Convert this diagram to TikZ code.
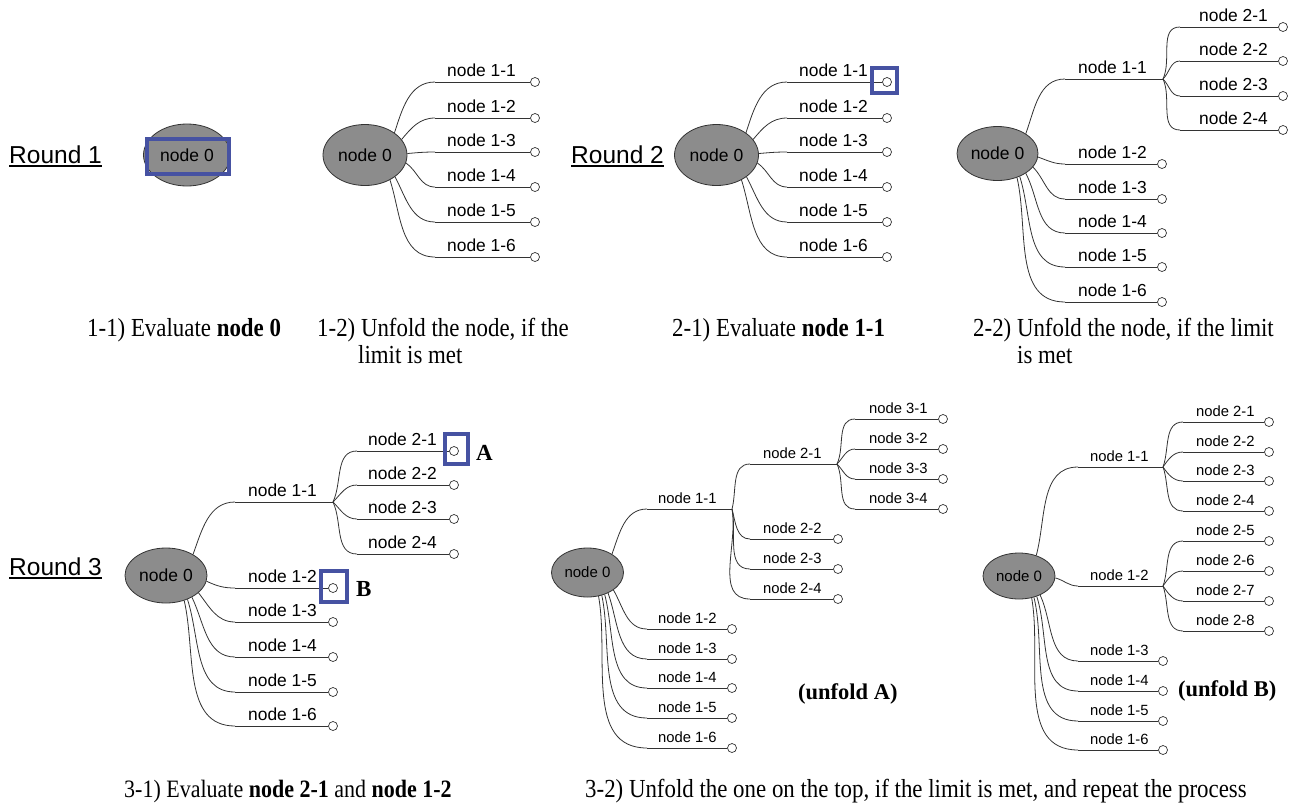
\documentclass[tikz,border=0pt]{standalone}
\usepackage{fontspec}
\setmainfont{Liberation Serif}
\newfontfamily\capfont{Liberation Serif}[FakeStretch=0.88]
\newfontfamily\lblfont{Liberation Sans}
\usetikzlibrary{shapes.geometric}

\definecolor{rootfill}{HTML}{8C8C8C}
\definecolor{edgecol}{HTML}{333333}
\definecolor{hlblue}{HTML}{4652A2}

% a branch ending in an open dot: name, x line start, x dot, y, x label, label, label style
\newcommand\tleaf[7]{%
  \coordinate (#1s) at (#2,-#4);
  \node[leafdot] (#1) at (#3,-#4) {};
  \draw[conn] (#1s) -- (#1.west);
  \node[#7] (#1l) at (#5,-#4+6) {#6};
}
% a branch ending in a junction for further children
\newcommand\tstem[7]{%
  \coordinate (#1s) at (#2,-#4);
  \coordinate (#1) at (#3,-#4);
  \draw[conn] (#1s) -- (#1);
  \node[#7] (#1l) at (#5,-#4+6) {#6};
}

\tikzset{
  broot/.style={ellipse, draw=edgecol, fill=rootfill, line width=0.8pt, inner sep=0pt,
    font=\lblfont\fontsize{17.5}{20}\selectfont},
  sroot/.style={broot, font=\lblfont\fontsize{15}{18}\selectfont},
  leafdot/.style={circle, draw=edgecol, fill=white, line width=0.7pt, inner sep=0pt, minimum size=9pt},
  conn/.style={draw=edgecol, line width=0.8pt},
  lab/.style={anchor=base west, inner sep=0pt, font=\lblfont\fontsize{17.4}{20}\selectfont},
  slab/.style={anchor=base west, inner sep=0pt, font=\lblfont\fontsize{14.8}{18}\selectfont},
  hlbox/.style={draw=hlblue, line width=3.5pt, inner sep=0pt},
  roundlbl/.style={anchor=base west, inner sep=0pt, font=\lblfont\fontsize{24.5}{30}\selectfont},
  captxt/.style={anchor=base west, inner sep=0pt, font=\capfont\fontsize{26}{30}\selectfont},
  abmark/.style={anchor=base west, inner sep=0pt, font=\bfseries\fontsize{23}{27}\selectfont},
  unf/.style={anchor=base west, inner sep=0pt, font=\bfseries\fontsize{22.5}{27}\selectfont},
}

\begin{document}
\begin{tikzpicture}[x=1pt,y=1pt]
\useasboundingbox (0,0) rectangle (1298,-804);

% ---------------- Round 1: evaluate ----------------
\node[roundlbl] (rd1) at (9,-163) {Round 1};
\draw[line width=1.3pt] ([yshift=-3pt]rd1.base west) -- ([yshift=-3pt]rd1.base east);
\node[broot, minimum width=87pt, minimum height=62pt] (r1) at (187,-155) {node 0};
\node[hlbox, minimum width=82pt, minimum height=35pt] (h1) at (188,-156.5) {};

% ---------------- Round 1: unfold ----------------
\node[broot, minimum width=84pt, minimum height=61pt] (r2) at (365,-155) {node 0};
\tleaf{b11}{435}{535}{82}{447}{node 1-1}{lab}
\tleaf{b12}{435}{535}{118}{447}{node 1-2}{lab}
\tleaf{b13}{435}{535}{152}{447}{node 1-3}{lab}
\tleaf{b14}{435}{535}{187}{447}{node 1-4}{lab}
\tleaf{b15}{435}{535}{222}{447}{node 1-5}{lab}
\tleaf{b16}{435}{535}{257}{447}{node 1-6}{lab}
\draw[conn] (r2.37) to[out=72,in=180] (b11s);
\draw[conn] (r2.23) to[out=50,in=180] (b12s);
\draw[conn] (r2.2) to[out=5,in=180] (b13s);
\draw[conn] (r2.-11) to[out=-35,in=180] (b14s);
\draw[conn] (r2.-36) to[out=-62,in=180] (b15s);
\draw[conn] (r2.-45) to[out=-72,in=180] (b16s);

% ---------------- Round 2: evaluate ----------------
\node[roundlbl] (rd2) at (571,-163) {Round 2};
\draw[line width=1.3pt] ([yshift=-3pt]rd2.base west) -- ([yshift=-3pt]rd2.base east);
\node[broot, minimum width=84pt, minimum height=61pt] (r3) at (716.5,-155) {node 0};
\tleaf{c11}{787}{887}{82}{799}{node 1-1}{lab}
\tleaf{c12}{787}{887}{118}{799}{node 1-2}{lab}
\tleaf{c13}{787}{887}{152}{799}{node 1-3}{lab}
\tleaf{c14}{787}{887}{187}{799}{node 1-4}{lab}
\tleaf{c15}{787}{887}{222}{799}{node 1-5}{lab}
\tleaf{c16}{787}{887}{257}{799}{node 1-6}{lab}
\draw[conn] (r3.37) to[out=72,in=180] (c11s);
\draw[conn] (r3.23) to[out=50,in=180] (c12s);
\draw[conn] (r3.2) to[out=5,in=180] (c13s);
\draw[conn] (r3.-11) to[out=-35,in=180] (c14s);
\draw[conn] (r3.-36) to[out=-62,in=180] (c15s);
\draw[conn] (r3.-45) to[out=-72,in=180] (c16s);
\node[hlbox, minimum width=25pt, minimum height=25pt] (h2) at (884.5,-80.5) {};

% ---------------- Round 2: unfold ----------------
\node[broot, minimum width=81pt, minimum height=54pt] (r4) at (997.5,-153.5) {node 0};
\tstem{d11}{1065}{1163}{79}{1078}{node 1-1}{lab}
\tleaf{d21}{1180}{1283}{27}{1199}{node 2-1}{lab}
\tleaf{d22}{1180}{1283}{61}{1199}{node 2-2}{lab}
\tleaf{d23}{1180}{1283}{96}{1199}{node 2-3}{lab}
\tleaf{d24}{1180}{1283}{130}{1199}{node 2-4}{lab}
\tleaf{d12}{1065}{1162}{164}{1078}{node 1-2}{lab}
\tleaf{d13}{1065}{1162}{199}{1078}{node 1-3}{lab}
\tleaf{d14}{1065}{1162}{233}{1078}{node 1-4}{lab}
\tleaf{d15}{1065}{1162}{267}{1078}{node 1-5}{lab}
\tleaf{d16}{1065}{1162}{302}{1078}{node 1-6}{lab}
\draw[conn] (r4.35) to[out=70,in=180] (d11s);
\draw[conn] (d11) to[out=65,in=180] (d21s);
\draw[conn] (d11) to[out=45,in=180] (d22s);
\draw[conn] (d11) to[out=-45,in=180] (d23s);
\draw[conn] (d11) to[out=-65,in=180] (d24s);
\draw[conn] (r4.-5) to[out=-20,in=180] (d12s);
\draw[conn] (r4.-21) to[out=-45,in=180] (d13s);
\draw[conn] (r4.-35) to[out=-62,in=180] (d14s);
\draw[conn] (r4.-46) to[out=-72,in=180] (d15s);
\draw[conn] (r4.-51) to[out=-77,in=180] (d16s);

% ---------------- Round 1/2 captions ----------------
\node[captxt] (cap1) at (87,-336) {1-1) Evaluate \textbf{node 0}};
\node[captxt] (cap2a) at (317,-336) {1-2) Unfold the node, if the};
\node[captxt] (cap2b) at (358,-363) {limit is met};
\node[captxt] (cap3) at (672,-336) {2-1) Evaluate \textbf{node 1-1}};
\node[captxt] (cap4a) at (973,-336) {2-2) Unfold the node, if the limit};
\node[captxt] (cap4b) at (1017,-363) {is met};

% ---------------- Round 3: evaluate ----------------
\node[roundlbl] (rd3) at (9,-575) {Round 3};
\draw[line width=1.3pt] ([yshift=-3pt]rd3.base west) -- ([yshift=-3pt]rd3.base east);
\node[broot, minimum width=82pt, minimum height=55pt] (r5) at (166,-575.5) {node 0};
\tstem{e11}{235}{333}{502}{248}{node 1-1}{lab}
\tleaf{e21}{357}{454}{451}{368}{node 2-1}{lab}
\tleaf{e22}{357}{454}{485}{368}{node 2-2}{lab}
\tleaf{e23}{357}{454}{519}{368}{node 2-3}{lab}
\tleaf{e24}{357}{454}{554}{368}{node 2-4}{lab}
\tleaf{e12}{235}{333}{588}{248}{node 1-2}{lab}
\tleaf{e13}{235}{333}{622}{248}{node 1-3}{lab}
\tleaf{e14}{235}{333}{657}{248}{node 1-4}{lab}
\tleaf{e15}{235}{333}{692}{248}{node 1-5}{lab}
\tleaf{e16}{235}{333}{726}{248}{node 1-6}{lab}
\draw[conn] (r5.38) to[out=70,in=180] (e11s);
\draw[conn] (e11) to[out=65,in=180] (e21s);
\draw[conn] (e11) to[out=45,in=180] (e22s);
\draw[conn] (e11) to[out=-45,in=180] (e23s);
\draw[conn] (e11) to[out=-65,in=180] (e24s);
\draw[conn] (r5.-8) to[out=-25,in=180] (e12s);
\draw[conn] (r5.-28) to[out=-52,in=180] (e13s);
\draw[conn] (r5.-40) to[out=-64,in=180] (e14s);
\draw[conn] (r5.-48) to[out=-72,in=180] (e15s);
\draw[conn] (r5.-54) to[out=-77,in=180] (e16s);
\node[hlbox, minimum width=23pt, minimum height=30pt] (hA) at (456.5,-449) {};
\node[abmark] (mA) at (476,-460) {A};
\node[hlbox, minimum width=26pt, minimum height=31pt] (hB) at (334,-586.5) {};
\node[abmark] (mB) at (356,-596) {B};

% ---------------- Round 3: unfold A ----------------
\node[sroot, minimum width=72pt, minimum height=49pt] (r6) at (587.5,-572.5) {node 0};
\tstem{f11}{647}{732}{509}{658}{node 1-1}{slab}
\tstem{f21}{750}{837}{464}{763}{node 2-1}{slab}
\tleaf{f22}{750}{838}{539}{763}{node 2-2}{slab}
\tleaf{f23}{750}{838}{569}{763}{node 2-3}{slab}
\tleaf{f24}{750}{838}{599}{763}{node 2-4}{slab}
\tleaf{f31}{855}{943}{419}{869}{node 3-1}{slab}
\tleaf{f32}{855}{943}{449}{869}{node 3-2}{slab}
\tleaf{f33}{855}{943}{479}{869}{node 3-3}{slab}
\tleaf{f34}{855}{943}{509}{869}{node 3-4}{slab}
\tleaf{f12}{647}{732}{629}{658}{node 1-2}{slab}
\tleaf{f13}{647}{732}{659}{658}{node 1-3}{slab}
\tleaf{f14}{647}{732}{688}{658}{node 1-4}{slab}
\tleaf{f15}{647}{732}{718}{658}{node 1-5}{slab}
\tleaf{f16}{647}{732}{748}{658}{node 1-6}{slab}
\draw[conn] (r6.37) to[out=70,in=180] (f11s);
\draw[conn] (f11) to[out=75,in=180] (f21s);
\draw[conn] (f11) to[out=-75,in=180] (f22s);
\draw[conn] (f11) to[out=-78,in=180] (f23s);
\draw[conn] (f11) to[out=-80,in=180] (f24s);
\draw[conn] (f21) to[out=65,in=180] (f31s);
\draw[conn] (f21) to[out=45,in=180] (f32s);
\draw[conn] (f21) to[out=-45,in=180] (f33s);
\draw[conn] (f21) to[out=-65,in=180] (f34s);
\draw[conn] (r6.-34) to[out=-60,in=180] (f12s);
\draw[conn] (r6.-45) to[out=-70,in=180] (f13s);
\draw[conn] (r6.-52) to[out=-75,in=180] (f14s);
\draw[conn] (r6.-58) to[out=-78,in=180] (f15s);
\draw[conn] (r6.-65) to[out=-80,in=180] (f16s);
\node[unf] (uA) at (798,-699) {(unfold A)};

% ---------------- Round 3: unfold B ----------------
\node[sroot, minimum width=72pt, minimum height=46pt] (r7) at (1019,-576) {node 0};
\tstem{g11}{1078}{1163}{467}{1090}{node 1-1}{slab}
\tleaf{g21}{1183}{1269}{422}{1196}{node 2-1}{slab}
\tleaf{g22}{1183}{1269}{452}{1196}{node 2-2}{slab}
\tleaf{g23}{1183}{1269}{481}{1196}{node 2-3}{slab}
\tleaf{g24}{1183}{1269}{511}{1196}{node 2-4}{slab}
\tstem{g12}{1078}{1163}{586}{1090}{node 1-2}{slab}
\tleaf{g25}{1183}{1269}{541}{1196}{node 2-5}{slab}
\tleaf{g26}{1183}{1269}{571}{1196}{node 2-6}{slab}
\tleaf{g27}{1183}{1269}{601}{1196}{node 2-7}{slab}
\tleaf{g28}{1183}{1269}{631}{1196}{node 2-8}{slab}
\tleaf{g13}{1078}{1163}{661}{1090}{node 1-3}{slab}
\tleaf{g14}{1078}{1163}{691}{1090}{node 1-4}{slab}
\tleaf{g15}{1078}{1163}{721}{1090}{node 1-5}{slab}
\tleaf{g16}{1078}{1163}{750}{1090}{node 1-6}{slab}
\draw[conn] (r7.50) to[out=75,in=180] (g11s);
\draw[conn] (g11) to[out=70,in=180] (g21s);
\draw[conn] (g11) to[out=55,in=180] (g22s);
\draw[conn] (g11) to[out=-55,in=180] (g23s);
\draw[conn] (g11) to[out=-70,in=180] (g24s);
\draw[conn] (r7.-3) to[out=-15,in=180] (g12s);
\draw[conn] (g12) to[out=70,in=180] (g25s);
\draw[conn] (g12) to[out=55,in=180] (g26s);
\draw[conn] (g12) to[out=-55,in=180] (g27s);
\draw[conn] (g12) to[out=-70,in=180] (g28s);
\draw[conn] (r7.-42) to[out=-65,in=180] (g13s);
\draw[conn] (r7.-49) to[out=-72,in=180] (g14s);
\draw[conn] (r7.-55) to[out=-76,in=180] (g15s);
\draw[conn] (r7.-60) to[out=-80,in=180] (g16s);
\node[unf] (uB) at (1178,-696) {(unfold B)};

% ---------------- Round 3 captions ----------------
\node[captxt, font=\capfont\fontsize{25}{30}\selectfont] (cap5) at (124,-797) {3-1) Evaluate \textbf{node 2-1} and \textbf{node 1-2}};
\node[captxt] (cap6) at (585,-797) {3-2) Unfold the one on the top, if the limit is met, and repeat the process};
\end{tikzpicture}
\end{document}
